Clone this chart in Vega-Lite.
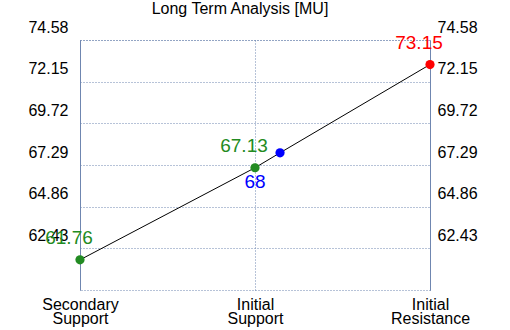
{
  "$schema": "https://vega.github.io/schema/vega-lite/v6.json",
  "width": 350,
  "height": 250,
  "autosize": {"type": "none"},
  "padding": {"left": 80, "top": 40, "right": 80, "bottom": 40},
  "background": "white",
  "title": {
    "text": "Long Term Analysis [MU]",
    "font": "Liberation Sans",
    "fontSize": 16,
    "fontWeight": "normal",
    "color": "black",
    "baseline": "alphabetic",
    "offset": -11,
    "dx": -15
  },
  "config": {
    "view": {"stroke": "#6f86b0", "strokeDash": [1, 2], "strokeWidth": 1},
    "axis": {
      "labelFont": "Liberation Sans",
      "labelFontSize": 16,
      "labelColor": "black",
      "ticks": false,
      "title": null,
      "gridColor": "#6f86b0",
      "gridDash": [1, 2],
      "gridOpacity": 1,
      "domainColor": "#6f86b0"
    }
  },
  "data": {
    "values": [
      {"x": 0, "value": 61.76, "kind": "support"},
      {"x": 1, "value": 67.13, "kind": "support"},
      {"x": 1.143, "value": 68, "kind": "current"},
      {"x": 2, "value": 73.15, "kind": "resistance"}
    ]
  },
  "encoding": {
    "x": {
      "field": "x",
      "type": "quantitative",
      "scale": {"domain": [0, 2], "nice": false, "zero": false},
      "axis": {
        "values": [0, 1, 2],
        "domain": false,
        "labelPadding": 6,
        "labelLineHeight": 14,
        "labelFlush": false,
        "labelExpr": "datum.value == 0 ? ['Secondary', 'Support'] : datum.value == 1 ? ['Initial', 'Support'] : ['Initial', 'Resistance']"
      }
    }
  },
  "layer": [
    {
      "mark": {"type": "line", "color": "black", "strokeWidth": 1},
      "encoding": {
        "y": {
          "field": "value",
          "type": "quantitative",
          "scale": {"domain": [60, 74.58], "nice": false, "zero": false},
          "axis": {
            "orient": "left",
            "values": [62.43, 64.86, 67.29, 69.72, 72.15, 74.58],
            "format": ".2f",
            "labelOffset": -13,
            "labelPadding": 12,
            "labelFlush": false,
            "domain": true
          }
        }
      }
    },
    {
      "mark": {"type": "circle", "size": 85, "opacity": 1},
      "encoding": {
        "y": {
          "field": "value",
          "type": "quantitative",
          "axis": {
            "orient": "right",
            "values": [62.43, 64.86, 67.29, 69.72, 72.15, 74.58],
            "format": ".2f",
            "labelOffset": -13,
            "labelPadding": 7,
            "labelFlush": false,
            "grid": false,
            "domain": true
          }
        },
        "color": {
          "field": "kind",
          "type": "nominal",
          "scale": {"domain": ["support", "current", "resistance"], "range": ["#228b22", "#0000ff", "#ff0000"]},
          "legend": null
        }
      }
    },
    {
      "transform": [{"filter": "datum.kind != 'current'"}],
      "mark": {"type": "text", "font": "Liberation Sans", "fontSize": 19, "dx": -11, "dy": -22, "baseline": "middle"},
      "encoding": {
        "y": {"field": "value", "type": "quantitative", "axis": null},
        "text": {"field": "value", "type": "quantitative", "format": ".2f"},
        "color": {
          "field": "kind",
          "type": "nominal",
          "scale": {"domain": ["support", "current", "resistance"], "range": ["#228b22", "#0000ff", "#ff0000"]},
          "legend": null
        }
      }
    },
    {
      "transform": [{"filter": "datum.kind == 'current'"}],
      "mark": {"type": "text", "font": "Liberation Sans", "fontSize": 19, "dx": -25, "dy": 29, "baseline": "middle"},
      "encoding": {
        "y": {"field": "value", "type": "quantitative", "axis": null},
        "text": {"field": "value", "type": "quantitative", "format": "d"},
        "color": {
          "field": "kind",
          "type": "nominal",
          "scale": {"domain": ["support", "current", "resistance"], "range": ["#228b22", "#0000ff", "#ff0000"]},
          "legend": null
        }
      }
    }
  ],
  "resolve": {"axis": {"y": "independent"}}
}
